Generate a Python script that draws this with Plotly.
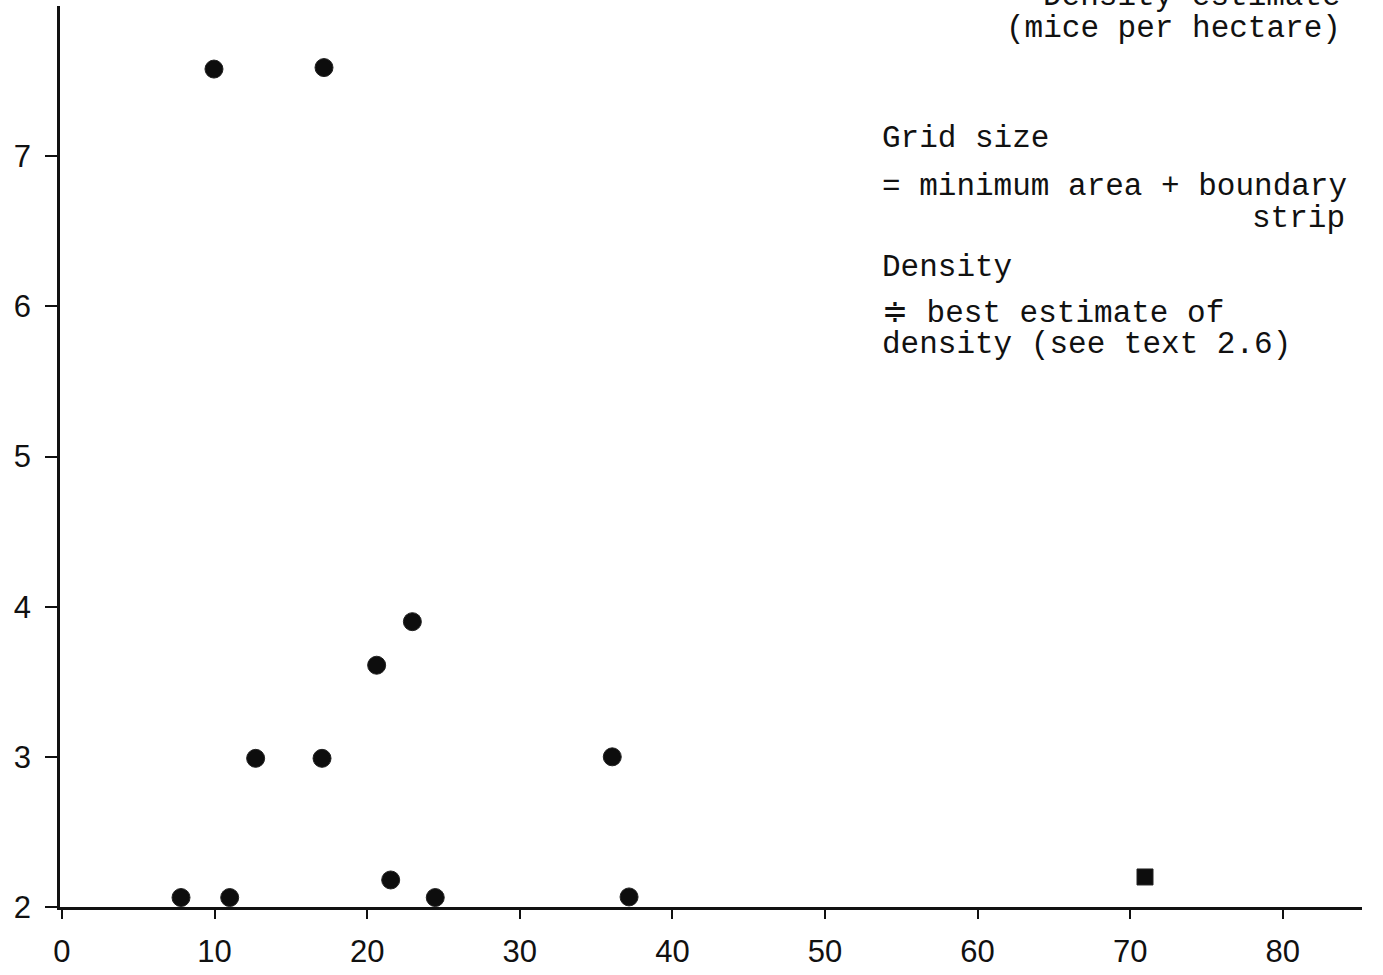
import plotly.graph_objects as go

# Data (grid size vs density estimate)
grid_size = [9.96, 17.17, 20.62, 22.96, 12.69, 17.04, 36.06, 7.80, 10.99, 21.54, 24.46, 37.16]
density = [7.58, 7.59, 3.61, 3.90, 2.99, 2.99, 3.00, 2.063, 2.063, 2.18, 2.063, 2.067]
sq_grid_size = [70.97]
sq_density = [2.20]

x_ticks = [0, 10, 20, 30, 40, 50, 60, 70, 80]
y_ticks = [2, 3, 4, 5, 6, 7]

W, H = 1383, 975
L, R, T, B = 60, 1362, 6, 923
X_RANGE = [-0.13, 85.19]
Y_RANGE = [2, 8.0]


def px(xp):
    return (xp - L) / (R - L)


def py(yp):
    return (B - yp) / (B - T)


fig = go.Figure()
fig.add_trace(go.Scatter(
    x=grid_size, y=density, mode="markers",
    marker=dict(symbol="circle", size=18, color="#0d0d0d",
                line=dict(color="#222", width=1)),
    showlegend=False, cliponaxis=False,
))
fig.add_trace(go.Scatter(
    x=sq_grid_size, y=sq_density, mode="markers",
    marker=dict(symbol="square", size=16, color="#0d0d0d",
                line=dict(color="#222", width=1)),
    showlegend=False, cliponaxis=False,
))

mono = dict(family="Liberation Mono", size=31, color="#111")
ann = []


def add_text(text, xp, yp, xanchor="left"):
    ann.append(dict(text=text, x=px(xp), y=py(yp), xref="paper", yref="paper",
                    xanchor=xanchor, yanchor="middle", showarrow=False,
                    font=mono))


add_text("Density estimate", 1343, -4, "right")
add_text("(mice per hectare)", 1343, 29, "right")
add_text("Grid size", 880, 141)
add_text("= minimum area + boundary", 880, 190)
add_text("strip", 1347, 222, "right")
add_text("Density", 880, 272)
add_text("≑ best estimate of", 880, 319)
add_text("density (see text 2.6)", 880, 351)

axis_font = dict(family="Liberation Sans", size=31, color="#111")

fig.update_layout(
    width=W, height=H,
    margin=dict(l=L, r=W - R, t=T, b=H - B, pad=0),
    paper_bgcolor="white", plot_bgcolor="white",
    annotations=ann,
    xaxis=dict(
        range=X_RANGE, tickvals=x_ticks, ticktext=[str(v) for v in x_ticks],
        showgrid=False, zeroline=False, showline=True, linecolor="#111",
        linewidth=2.5, ticks="outside", ticklen=9, tickwidth=2,
        tickcolor="#111", tickfont=axis_font, ticklabelstandoff=6,
    ),
    yaxis=dict(
        range=Y_RANGE, tickvals=y_ticks, ticktext=[str(v) for v in y_ticks],
        showgrid=False, zeroline=False, showline=True, linecolor="#111",
        linewidth=2.5, ticks="outside", ticklen=12, tickwidth=2,
        tickcolor="#111", tickfont=axis_font, ticklabelstandoff=8,
    ),
)

fig.write_html(
    "out.html",
    config={"displayModeBar": False, "responsive": False},
    post_script=("document.body.style.margin='0';"
                 "document.body.style.padding='0';"
                 "document.documentElement.style.overflow='hidden';"),
)
